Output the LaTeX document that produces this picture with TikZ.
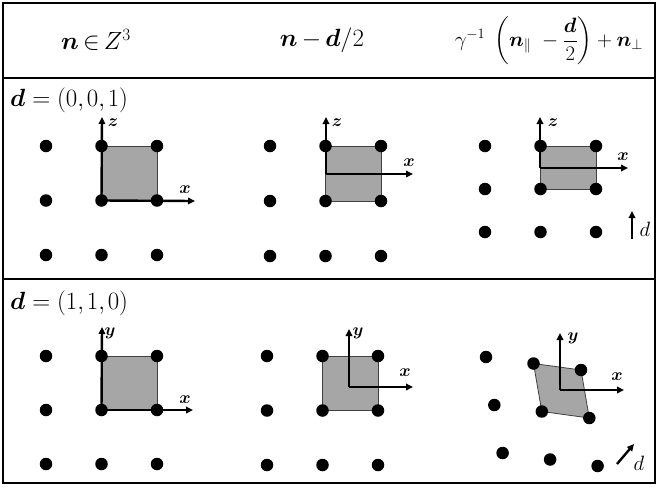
\documentclass[tikz,border=0pt]{standalone}
\usepackage{amsmath,amssymb,bm}
\usetikzlibrary{positioning, arrows.meta, calc}

\tikzset{
  site/.style={circle, fill=black, inner sep=0pt, minimum size=12.5pt},
  cell/.style={fill=black!35, draw=black!75, line width=0.8pt},
  axis/.style={line width=2.4pt, -{Triangle[length=7pt,width=6.5pt]}},
  axlabel/.style={font=\fontsize{18}{21}\selectfont, inner sep=0pt},
  head/.style={font=\fontsize{24}{28}\selectfont, inner sep=0pt},
  rowlabel/.style={font=\fontsize{25}{29}\selectfont, inner sep=0pt, anchor=west},
  frame/.style={line width=2.6pt},
}
\newcommand{\tightmu}{\thickmuskip=3mu \medmuskip=3mu }

\begin{document}
\begin{tikzpicture}[x=1pt, y=-1pt]
    \useasboundingbox (0,0) rectangle (664,488);

    % table frame
    \draw[frame] (3,3) rectangle (655,483);
    \draw[frame] (3,78) -- (655,78);
    \draw[frame] (3,279) -- (655,279);

    % header
    \node[head] (h1) at (96,40) {$\tightmu\bm{n}\in Z^{3}$};
    \node[head] (h2) at (322,40) {$\tightmu\bm{n}-\bm{d}/2$};
    \node[head, font=\fontsize{20}{24}\selectfont] (h3) at (549,41)
        {$\gamma^{-1}\;\left(\bm{n}_{\parallel}\;-\dfrac{\bm{d}}{2}\right)+\bm{n}_{\perp}$};

    \node[rowlabel] (r1) at (10,100) {$\bm{d}=(0{,}\mkern2mu0{,}\mkern2mu1)$};
    \node[rowlabel] (r2) at (10,303) {$\bm{d}=(1{,}\mkern2mu1{,}\mkern2mu0)$};

    % row 1, column 1
    \foreach \i in {0,1,2} \foreach \j in {0,1,2}
        \coordinate (a\i\j) at (46+55.5*\i, 146+54.5*\j);
    \filldraw[cell] (a10) rectangle (a21);
    \foreach \i in {0,1,2} \foreach \j in {0,1,2}
        \node[site] (A\i\j) at (a\i\j) {};
    \coordinate (az) at (102,117);
    \coordinate (ax) at (195,201);
    \draw[axis] (A11.center) -- (az);
    \draw[axis] (A11.center) -- (ax);
    \node[axlabel] (azl) at (113,123) {$\bm{z}$};
    \node[axlabel] (axl) at (185,190) {$\bm{x}$};

    % row 1, column 2
    \foreach \i in {0,1,2} \foreach \j in {0,1,2}
        \coordinate (b\i\j) at (270+55.5*\i, 146+55*\j);
    \filldraw[cell] (b10) rectangle (b21);
    \foreach \i in {0,1,2} \foreach \j in {0,1,2}
        \node[site] (B\i\j) at (b\i\j) {};
    \coordinate (bo) at (326,174);
    \coordinate (bz) at (326,117);
    \coordinate (bx) at (413,174);
    \draw[axis] (bo) -- (bz);
    \draw[axis] (bo) -- (bx);
    \node[axlabel] (bzl) at (337,123) {$\bm{z}$};
    \node[axlabel] (bxl) at (409,163) {$\bm{x}$};

    % row 1, column 3
    \foreach \i in {0,1,2} \foreach \j in {0,1,2}
        \coordinate (c\i\j) at (485+55.5*\i, 146+43*\j);
    \filldraw[cell] (c10) rectangle (c21);
    \foreach \i in {0,1,2} \foreach \j in {0,1,2}
        \node[site] (C\i\j) at (c\i\j) {};
    \coordinate (co) at (540,168);
    \coordinate (cz) at (540,117);
    \coordinate (cx) at (628,168);
    \draw[axis] (co) -- (cz);
    \draw[axis] (co) -- (cx);
    \node[axlabel] (czl) at (553,123) {$\bm{z}$};
    \node[axlabel] (cxl) at (623,157) {$\bm{x}$};
    \coordinate (cd0) at (632,239);
    \coordinate (cd1) at (632,211);
    \draw[axis] (cd0) -- (cd1);
    \node[axlabel, font=\fontsize{20}{24}\selectfont] (cdl) at (645,229) {$d$};

    % row 2, column 1
    \foreach \i in {0,1,2} \foreach \j in {0,1,2}
        \coordinate (d\i\j) at (46+55.5*\i, 356+54*\j);
    \filldraw[cell] (d10) rectangle (d21);
    \foreach \i in {0,1,2} \foreach \j in {0,1,2}
        \node[site] (D\i\j) at (d\i\j) {};
    \coordinate (dy) at (102,327);
    \coordinate (dx) at (193,410);
    \draw[axis] (D11.center) -- (dy);
    \draw[axis] (D11.center) -- (dx);
    \node[axlabel] (dyl) at (110,333) {$\bm{y}$};
    \node[axlabel] (dxl) at (185,400) {$\bm{x}$};

    % row 2, column 2
    \foreach \i in {0,1,2} \foreach \j in {0,1,2}
        \coordinate (e\i\j) at (267+55.5*\i, 356+54.5*\j);
    \filldraw[cell] (e10) rectangle (e21);
    \foreach \i in {0,1,2} \foreach \j in {0,1,2}
        \node[site] (E\i\j) at (e\i\j) {};
    \coordinate (eo) at (349,387);
    \coordinate (ey) at (349,329);
    \coordinate (ex) at (413,387);
    \draw[axis] (eo) -- (ey);
    \draw[axis] (eo) -- (ex);
    \node[axlabel] (eyl) at (358,333) {$\bm{y}$};
    \node[axlabel] (exl) at (405,373) {$\bm{x}$};

    % row 2, column 3 (skewed lattice)
    \foreach \i in {0,1,2} \foreach \j in {0,1,2}
        \coordinate (f\i\j) at (486+47.5*\i+8.3*\j, 357+6.5*\i+48*\j);
    \filldraw[cell] (f10) -- (f20) -- (f21) -- (f11) -- cycle;
    \foreach \i in {0,1,2} \foreach \j in {0,1,2}
        \node[site] (F\i\j) at (f\i\j) {};
    \coordinate (fo) at (560,390);
    \coordinate (fy) at (560,333);
    \coordinate (fx) at (624,390);
    \draw[axis] (fo) -- (fy);
    \draw[axis] (fo) -- (fx);
    \node[axlabel] (fyl) at (573,338) {$\bm{y}$};
    \node[axlabel] (fxl) at (617,377) {$\bm{x}$};
    \coordinate (fd0) at (617,464);
    \coordinate (fd1) at (634,444);
    \draw[axis] (fd0) -- (fd1);
    \node[axlabel, font=\fontsize{20}{24}\selectfont] (fdl) at (639,463) {$d$};
\end{tikzpicture}
\end{document}
